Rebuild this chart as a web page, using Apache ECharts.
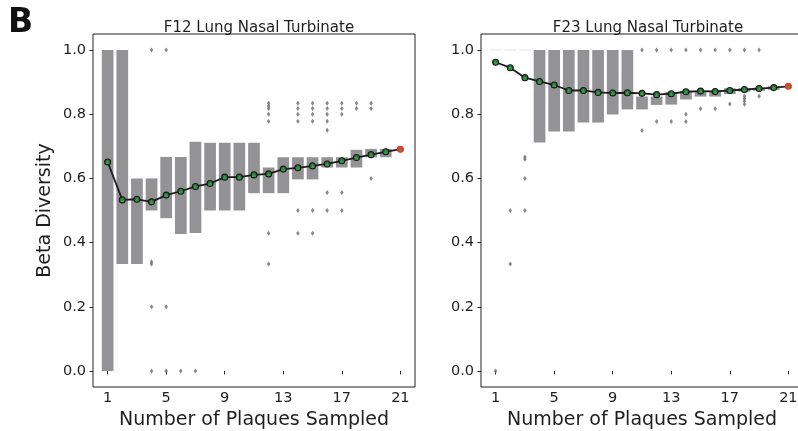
<!DOCTYPE html>
<html><head><meta charset="utf-8">
<script src="https://cdn.jsdelivr.net/npm/echarts@6/dist/echarts.min.js"></script>
<style>html,body{margin:0;padding:0;background:#fff}#c{width:798px;height:431px}</style>
</head><body><div id="c"></div>
<script>
// ---------- data ----------
const xTicks = [1, 5, 9, 13, 17, 21];
const yTicks = [0, 0.2, 0.4, 0.6, 0.8, 1.0];
const plaques = [1,2,3,4,5,6,7,8,9,10,11,12,13,14,15,16,17,18,19,20,21];
const boxPlaques = [1,2,3,4,5,6,7,8,9,10,11,12,13,14,15,16,17,18,19,20];
const leftTitle = 'F12 Lung Nasal Turbinate';
const rightTitle = 'F23 Lung Nasal Turbinate';
const xName = 'Number of Plaques Sampled';
const yName = 'Beta Diversity';
const panelLetter = 'B';

// F12 : box lower (Q1) and upper (Q3) edges
const leftQ1 = [0.0, 0.333, 0.333, 0.5, 0.476, 0.427, 0.43, 0.5, 0.5, 0.5, 0.554, 0.554, 0.554, 0.597, 0.597, 0.634, 0.634, 0.634, 0.666, 0.666];
const leftQ3 = [1.0, 1.0, 0.6, 0.6, 0.667, 0.667, 0.714, 0.711, 0.711, 0.711, 0.711, 0.634, 0.666, 0.666, 0.666, 0.666, 0.666, 0.689, 0.692, 0.692];
const leftMean = [0.651, 0.533, 0.535, 0.527, 0.548, 0.56, 0.575, 0.584, 0.604, 0.604, 0.611, 0.614, 0.629, 0.633, 0.639, 0.645, 0.655, 0.665, 0.674, 0.683, 0.691];
const leftOutlierX = [4,4,4,4,4, 5,5,5, 6, 7,
  12,12,12,12,12,12,12, 14,14,14,14,14,14, 15,15,15,15,15,15,
  16,16,16,16,16,16,16, 17,17,17,17,17, 18,18, 19,19,19];
const leftOutlierY = [1.0,0.34,0.333,0.2,0.0, 1.0,0.2,0.0, 0.0, 0.0,
  0.834,0.826,0.818,0.8,0.778,0.429,0.333, 0.834,0.818,0.8,0.778,0.5,0.429, 0.834,0.818,0.8,0.778,0.5,0.429,
  0.834,0.818,0.8,0.778,0.75,0.556,0.5, 0.834,0.818,0.8,0.556,0.5, 0.834,0.818, 0.834,0.818,0.6];

// F23
const rightQ1 = [1.0, 1.0, 1.0, 0.712, 0.746, 0.746, 0.774, 0.774, 0.799, 0.815, 0.815, 0.829, 0.83, 0.846, 0.855, 0.855, 0.863, 0.87, 0.873, 0.876];
const rightQ3 = [1.0, 1.0, 1.0, 1.0, 1.0, 1.0, 1.0, 1.0, 1.0, 1.0, 0.855, 0.855, 0.87, 0.873, 0.873, 0.873, 0.881, 0.881, 0.883, 0.887];
const rightMean = [0.962, 0.945, 0.914, 0.902, 0.891, 0.874, 0.874, 0.868, 0.866, 0.867, 0.865, 0.861, 0.864, 0.87, 0.872, 0.871, 0.874, 0.877, 0.88, 0.883, 0.887];
const rightOutlierX = [1, 2,2, 3,3,3,3, 11,11, 12,12, 13,13, 14,14,14, 15,15, 16,16, 17,17, 18,18,18,18,18, 19,19];
const rightOutlierY = [0.0, 0.5,0.333, 0.667,0.66,0.6,0.5, 1.0,0.749, 1.0,0.777, 1.0,0.777, 1.0,0.8,0.777, 1.0,0.817, 1.0,0.817, 1.0,0.832, 1.0,0.857,0.849,0.841,0.831, 1.0,0.856];

// ---------- build ----------
const FONT = 'DejaVu Sans';
const TXT = '#1e1e1e';
const BOX = '#939396';

function boxRender(params, api) {
  const x = api.value(0), lo = api.value(1), hi = api.value(2);
  const p1 = api.coord([x - 0.4, hi]);
  const p2 = api.coord([x + 0.4, lo]);
  const h = p2[1] - p1[1];
  if (h < 0.6) {
    return {type: 'rect', shape: {x: p1[0], y: p1[1] - 0.5, width: p2[0] - p1[0], height: 1},
            style: {fill: '#e3e3e3'}};
  }
  return {type: 'rect', shape: {x: p1[0], y: p1[1], width: p2[0] - p1[0], height: h},
          style: {fill: BOX}};
}

function zip(a, b) { return a.map((v, i) => [v, b[i]]); }

function panelSeries(idx, q1, q3, mean, ox, oy) {
  const boxes = boxPlaques.map((x, i) => [x, q1[i], q3[i]]);
  const meanData = plaques.map((x, i) => {
    const last = i === plaques.length - 1;
    return last ? {value: [x, mean[i]], itemStyle: {color: '#e8352b', borderColor: '#e8352b'}} : [x, mean[i]];
  });
  return [
    {type: 'custom', xAxisIndex: idx, yAxisIndex: idx, data: boxes, renderItem: boxRender, z: 1, silent: true},
    {type: 'scatter', xAxisIndex: idx, yAxisIndex: idx, data: zip(ox, oy), symbol: 'diamond',
     symbolSize: [3.5, 5], itemStyle: {color: '#6a6a6c'}, z: 2, silent: true},
    {type: 'line', xAxisIndex: idx, yAxisIndex: idx, data: meanData, symbol: 'circle', symbolSize: 6,
     lineStyle: {color: '#1c1c1c', width: 1.8},
     itemStyle: {color: '#2c6e3a', borderColor: '#1a1a1a', borderWidth: 1.1}, z: 3, silent: true, animation: false},
    {type: 'scatter', xAxisIndex: idx, yAxisIndex: idx, data: zip(plaques, mean), symbol: 'triangle',
     symbolSize: 4, itemStyle: {color: '#35b24a'}, z: 4, silent: true}
  ];
}

function xAxis(idx) {
  return {type: 'value', gridIndex: idx, min: 0, max: 22,
    name: xName, nameLocation: 'middle', nameGap: 19,
    nameTextStyle: {fontFamily: FONT, fontSize: 19, color: TXT},
    axisLine: {show: false}, splitLine: {show: false},
    axisTick: {show: true, customValues: xTicks, length: 3.5, lineStyle: {color: '#222', width: 1}},
    axisLabel: {customValues: xTicks, fontFamily: FONT, fontSize: 14.5, color: TXT, margin: 4}};
}
function yAxis(idx, withName) {
  return {type: 'value', gridIndex: idx, min: -0.05, max: 1.05,
    name: withName ? yName : '', nameLocation: 'middle', nameGap: 38,
    nameTextStyle: {fontFamily: FONT, fontSize: 19, color: TXT},
    axisLine: {show: false}, splitLine: {show: false},
    axisTick: {show: true, customValues: yTicks, length: 3.5, lineStyle: {color: '#222', width: 1}},
    axisLabel: {customValues: yTicks, fontFamily: FONT, fontSize: 14.5, color: TXT, margin: 7,
      formatter: v => v.toFixed(1)}};
}

const chart = echarts.init(document.getElementById('c'), null, {renderer: 'canvas'});
chart.setOption({
  animation: false,
  backgroundColor: '#fff',
  title: [
    {text: leftTitle, left: 254, top: 16, textAlign: 'center',
     textStyle: {fontFamily: FONT, fontSize: 15, fontWeight: 'normal', color: TXT}},
    {text: rightTitle, left: 643, top: 16, textAlign: 'center',
     textStyle: {fontFamily: FONT, fontSize: 15, fontWeight: 'normal', color: TXT}},
    {text: panelLetter, left: 3, top: 2,
     textStyle: {fontFamily: FONT, fontSize: 33, fontWeight: 'bold', color: '#111'}}
  ],
  grid: [
    {left: 93, top: 34, width: 322, height: 353, show: true, borderColor: '#222', borderWidth: 1,
     backgroundColor: 'transparent', outerBoundsMode: 'none', containLabel: false},
    {left: 481, top: 34, width: 322, height: 353, show: true, borderColor: '#222', borderWidth: 1,
     backgroundColor: 'transparent', outerBoundsMode: 'none', containLabel: false}
  ],
  xAxis: [xAxis(0), xAxis(1)],
  yAxis: [yAxis(0, true), yAxis(1, false)],
  series: [].concat(
    panelSeries(0, leftQ1, leftQ3, leftMean, leftOutlierX, leftOutlierY),
    panelSeries(1, rightQ1, rightQ3, rightMean, rightOutlierX, rightOutlierY)
  )
});
</script>
</body></html>
